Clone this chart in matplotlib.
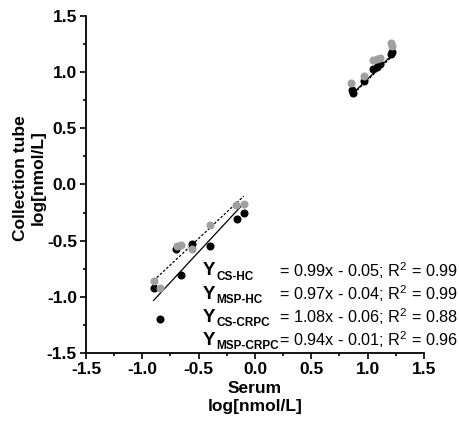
import numpy as np
import matplotlib
matplotlib.use('Agg')
import matplotlib.pyplot as plt

plt.rcParams['font.family'] = ['Liberation Sans', 'DejaVu Sans']
plt.rcParams['mathtext.fontset'] = 'custom'
plt.rcParams['mathtext.rm'] = 'Liberation Sans'
plt.rcParams['mathtext.bf'] = 'Liberation Sans:bold'

# HC group (upper cluster)
hc_cs_x = [0.86, 0.87, 0.97, 1.05, 1.08, 1.11, 1.21, 1.22]
hc_cs_y = [0.84, 0.815, 0.92, 1.03, 1.05, 1.07, 1.16, 1.18]
hc_msp_x = [0.85, 0.97, 1.05, 1.08, 1.11, 1.21, 1.22]
hc_msp_y = [0.90, 0.97, 1.11, 1.12, 1.13, 1.26, 1.23]

# CRPC group (lower cluster)
crpc_cs_x = [-0.90, -0.84, -0.66, -0.70, -0.56, -0.40, -0.16, -0.10]
crpc_cs_y = [-0.92, -1.20, -0.81, -0.57, -0.53, -0.55, -0.31, -0.25]
crpc_msp_x = [-0.90, -0.84, -0.69, -0.66, -0.56, -0.40, -0.17, -0.10]
crpc_msp_y = [-0.86, -0.92, -0.55, -0.54, -0.57, -0.36, -0.18, -0.17]

# regression equations: name, slope, intercept, r2
eq_names = ['CS-HC', 'MSP-HC', 'CS-CRPC', 'MSP-CRPC']
eq_slope = [0.99, 0.97, 1.08, 0.94]
eq_icept = [-0.05, -0.04, -0.06, -0.01]
eq_r2 = [0.99, 0.99, 0.88, 0.96]

ticks = [-1.5, -1.0, -0.5, 0.0, 0.5, 1.0, 1.5]

fig = plt.figure(figsize=(4.6, 4.23), dpi=100)
ax = fig.add_axes([86/460, 1 - 353/423, 338/460, 337/423])

black = '#000000'
gray = '#a0a0a0'

# fit lines
def fit_line(xs, k, b, style):
    xx = np.array([min(xs), max(xs)])
    ax.plot(xx, k * xx + b, color='black', lw=0.9, ls=style, zorder=1)

fit_line(hc_cs_x, eq_slope[0], eq_icept[0], '-')
fit_line(hc_msp_x, eq_slope[1], eq_icept[1], (0, (2, 1.5)))
fit_line(crpc_cs_x, eq_slope[2], eq_icept[2], '-')
fit_line(crpc_msp_x, eq_slope[3], eq_icept[3], (0, (2, 1.5)))

ms = 5.8
ax.plot(hc_cs_x, hc_cs_y, 'o', color=black, ms=ms, mec='none', zorder=2)
ax.plot(crpc_cs_x, crpc_cs_y, 'o', color=black, ms=ms, mec='none', zorder=2)
ax.plot(hc_msp_x, hc_msp_y, 'o', color=gray, ms=ms, mec='none', zorder=3)
ax.plot(crpc_msp_x, crpc_msp_y, 'o', color=gray, ms=ms, mec='none', zorder=3)

ax.set_xlim(-1.5, 1.5)
ax.set_ylim(-1.5, 1.5)
ax.set_xticks(ticks)
ax.set_yticks(ticks)
ax.set_xticklabels([f'{t:.1f}' for t in ticks])
ax.set_yticklabels([f'{t:.1f}' for t in ticks])
ax.set_xticks(np.arange(-1.25, 1.5, 0.5), minor=True)
ax.set_yticks(np.arange(-1.25, 1.5, 0.5), minor=True)
for lab in ax.get_xticklabels() + ax.get_yticklabels():
    lab.set_fontweight('bold')
ax.tick_params(which='major', length=4.5, width=1.2, labelsize=12.5, pad=2)
ax.tick_params(which='minor', length=2.5, width=1.2)

ax.spines['top'].set_visible(False)
ax.spines['right'].set_visible(False)
ax.spines['left'].set_linewidth(1.3)
ax.spines['bottom'].set_linewidth(1.3)

ax.set_xlabel('Serum\nlog[nmol/L]', fontsize=12.5, fontweight='bold', labelpad=3,
              linespacing=1.25)
ax.set_ylabel('Collection tube\nlog[nmol/L]', fontsize=12.5, fontweight='bold',
              linespacing=1.2)
ax.yaxis.set_label_coords(-0.12, 0.52)

# equation block
row_y = [-0.77, -0.975, -1.18, -1.385]
for i, name in enumerate(eq_names):
    y = row_y[i]
    ax.text(-0.46, y, 'Y', fontsize=13.5, fontweight='bold', va='center', ha='left',
            clip_on=False)
    ax.annotate(name, xy=(-0.46, y), xytext=(9.5, -4), textcoords='offset points',
                fontsize=8.5, fontweight='bold', va='center', ha='left',
                annotation_clip=False)
    sign = '-' if eq_icept[i] < 0 else '+'
    txt = f'= {eq_slope[i]:.2f}x {sign} {abs(eq_icept[i]):.2f}; R$^2$ = {eq_r2[i]:.2f}'
    ax.text(0.215, y, txt, fontsize=11.7, va='center', ha='left', clip_on=False)

fig.savefig('out.png', dpi=100)
